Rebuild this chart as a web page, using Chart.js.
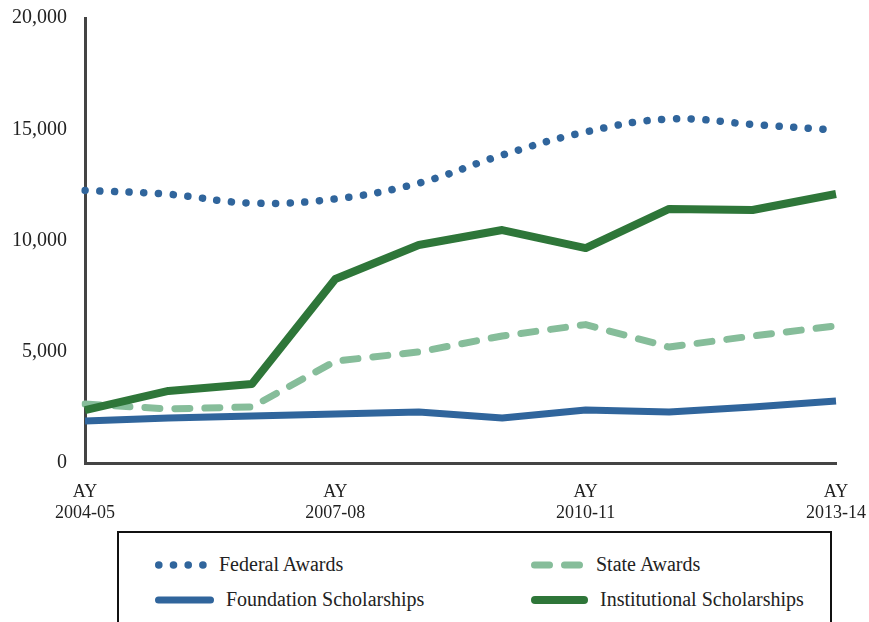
<!DOCTYPE html>
<html>
<head>
<meta charset="utf-8">
<script src="https://cdn.jsdelivr.net/npm/chart.js@4"></script>
<style>
  html, body { margin: 0; padding: 0; background: #fff; }
  #wrap { position: relative; width: 869px; height: 622px; overflow: hidden; font-family: "Liberation Serif", "DejaVu Serif", serif; }
  #chartBox { position: absolute; left: 0; top: -10px; width: 876px; height: 540px; }
  #legend { position: absolute; left: 117px; top: 531px; width: 715px; height: 110px; border: 2px solid #111; box-sizing: border-box; }
  .item { position: absolute; display: flex; align-items: center; font-size: 20px; color: #222; white-space: nowrap; }
  .item svg { margin-right: 12px; }
</style>
</head>
<body>
<div id="wrap">
  <div id="chartBox"><canvas id="c" width="876" height="540"></canvas></div>
  <div id="legend"></div>
</div>
<script>
/* ---- data ---- */
const years = ["2004-05", "2005-06", "2006-07", "2007-08", "2008-09",
               "2009-10", "2010-11", "2011-12", "2012-13", "2013-14"];
const federalAwards          = [12250, 12080, 11680, 11870, 12580, 13840, 14880, 15460, 15220, 14960];
const stateAwards            = [2650, 2430, 2520, 4580, 4990, 5710, 6220, 5210, 5710, 6160];
const foundationScholarships = [1890, 2020, 2110, 2200, 2290, 2020, 2380, 2290, 2520, 2790];
const institutionalScholars  = [2380, 3240, 3550, 8270, 9800, 10470, 9660, 11420, 11370, 12090];
const yTicks = [0, 5000, 10000, 15000, 20000];

const BLUE = "#30659c", GREEN = "#2e7639", LIGHT = "#86bd9a";

const series = [
  { label: "Federal Awards", data: federalAwards, color: BLUE, width: 7.5, dash: [0.1, 14.6], cap: "round", tension: 0.4, order: 3 },
  { label: "State Awards", data: stateAwards, color: LIGHT, width: 7, dash: [15, 15], cap: "round", tension: 0, order: 2 },
  { label: "Foundation Scholarships", data: foundationScholarships, color: BLUE, width: 7, dash: [], cap: "butt", tension: 0, order: 1 },
  { label: "Institutional Scholarships", data: institutionalScholars, color: GREEN, width: 8, dash: [], cap: "butt", tension: 0, order: 0 }
];

const tickFont = { family: "'Liberation Serif', 'DejaVu Serif', serif", size: 20 };

new Chart(document.getElementById("c"), {
  type: "line",
  data: {
    labels: years.map(y => "AY " + y),
    datasets: series.map(s => ({
      label: s.label,
      data: s.data,
      borderColor: s.color,
      backgroundColor: s.color,
      borderWidth: s.width,
      borderDash: s.dash,
      borderCapStyle: s.cap,
      borderJoinStyle: "round",
      tension: s.tension,
      pointRadius: 0,
      fill: false,
      order: s.order
    }))
  },
  options: {
    responsive: false,
    animation: false,
    layout: { padding: { top: 28, right: 27, left: 0, bottom: 0 } },
    plugins: { legend: { display: false }, tooltip: { enabled: false } },
    scales: {
      x: {
        grid: { display: false },
        border: { display: true, color: "#444", width: 3 },
        ticks: {
          autoSkip: false,
          maxRotation: 0,
          padding: 10,
          color: "#222",
          font: { family: tickFont.family, size: 18 },
          callback: (v, i) => i % 3 === 0 ? ["AY", years[i]] : ""
        },
        afterFit: s => { s.height = 67; }
      },
      y: {
        min: 0,
        max: 20000,
        grid: { display: false },
        border: { display: true, color: "#444", width: 3 },
        afterBuildTicks: s => { s.ticks = yTicks.map(v => ({ value: v })); },
        ticks: {
          padding: 10,
          color: "#222",
          font: tickFont,
          callback: v => v.toLocaleString("en-US")
        },
        afterFit: s => { s.width = 85; }
      }
    }
  }
});

/* ---- legend (html) ---- */
const legendPos = [
  { x: 36, y: 33 }, { x: 412, y: 33 },
  { x: 36, y: 68 }, { x: 412, y: 68 }
];
const legendLen = [52, 53, 59, 57];
const legend = document.getElementById("legend");
series.forEach((s, i) => {
  const el = document.createElement("div");
  el.className = "item";
  el.style.left = legendPos[i].x + "px";
  el.style.top = (legendPos[i].y - 13) + "px";
  const w = legendLen[i], h = 10, half = s.width / 2;
  const dash = s.dash.length ? `stroke-dasharray="${s.dash.join(" ")}"` : "";
  el.innerHTML =
    `<svg width="${w}" height="${h}"><line x1="${half}" y1="${h / 2}" x2="${w - half}" y2="${h / 2}"
      stroke="${s.color}" stroke-width="${s.width}" stroke-linecap="round" ${dash}/></svg>` +
    `<span>${s.label}</span>`;
  legend.appendChild(el);
});
</script>
</body>
</html>
